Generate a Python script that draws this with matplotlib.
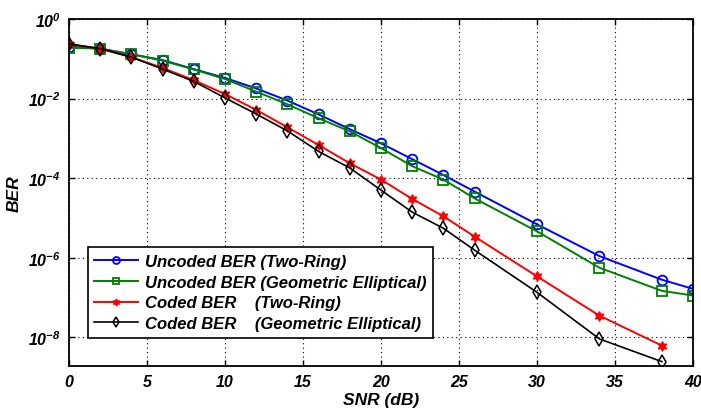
import matplotlib
matplotlib.use('Agg')
import matplotlib.pyplot as plt
from matplotlib.ticker import FixedLocator, NullLocator

plt.rcParams['font.family'] = ['Liberation Sans', 'DejaVu Sans']
plt.rcParams['mathtext.fontset'] = 'custom'
plt.rcParams['mathtext.rm'] = 'Liberation Sans:italic:bold'
plt.rcParams['mathtext.it'] = 'Liberation Sans:italic:bold'
plt.rcParams['mathtext.bf'] = 'Liberation Sans:italic:bold'

# SNR points (dB)
snr_uncoded = [0, 2, 4, 6, 8, 10, 12, 14, 16, 18, 20, 22, 24, 26, 30, 34, 38, 40]
snr_coded = [0, 2, 4, 6, 8, 10, 12, 14, 16, 18, 20, 22, 24, 26, 30, 34, 38]

ber_uncoded_ring = [0.20, 0.18, 0.13, 0.093, 0.055, 0.033, 0.018, 0.0089, 0.0040,
                    0.0017, 7.5e-4, 3.0e-4, 1.2e-4, 4.6e-5, 6.9e-6, 1.1e-6,
                    2.8e-7, 1.65e-7]
ber_uncoded_ellip = [0.19, 0.18, 0.13, 0.090, 0.054, 0.031, 0.015, 0.0072, 0.0032,
                     0.0015, 5.7e-4, 2.0e-4, 9.2e-5, 3.1e-5, 4.6e-6, 5.6e-7,
                     1.47e-7, 1.12e-7]
ber_coded_ring = [0.235, 0.18, 0.11, 0.059, 0.029, 0.013, 0.0052, 0.0019, 6.8e-4,
                  2.36e-4, 9.2e-5, 3.0e-5, 1.1e-5, 3.4e-6, 3.4e-7, 3.5e-8, 6.2e-9]
ber_coded_ellip = [0.235, 0.18, 0.11, 0.055, 0.027, 0.0104, 0.0041, 0.00154, 4.7e-4,
                   1.8e-4, 5.0e-5, 1.4e-5, 5.5e-6, 1.55e-6, 1.35e-7, 9.1e-9, 2.45e-9]

labels = ['Uncoded BER (Two-Ring)',
          'Uncoded BER (Geometric Elliptical)',
          'Coded BER    (Two-Ring)',
          'Coded BER    (Geometric Elliptical)']

fig = plt.figure(figsize=(7.01, 4.10), dpi=100)
ax = fig.add_axes([0.0984, 0.1049, 0.8902, 0.8463])

ax.semilogy(snr_uncoded, ber_uncoded_ring, '-o', color='blue', lw=1.4,
            ms=7, mfc='none', mew=1.3, label=labels[0])
ax.semilogy(snr_uncoded, ber_uncoded_ellip, '-s', color='green', lw=1.4,
            ms=7, mfc='none', mew=1.3, label=labels[1])
ax.semilogy(snr_coded, ber_coded_ring, '-', color='red', lw=1.4,
            marker=(6, 1, 0), ms=7, mfc='red', mew=1.0, label=labels[2])
ax.semilogy(snr_coded, ber_coded_ellip, '-d', color='black', lw=1.2,
            ms=7, mfc='none', mew=1.1, label=labels[3])

ax.set_xlim(0, 40)
ax.set_ylim(1.9e-9, 1)
ax.set_xticks(range(0, 41, 5))
ax.yaxis.set_major_locator(FixedLocator([1e0, 1e-2, 1e-4, 1e-6, 1e-8]))
ax.yaxis.set_minor_locator(NullLocator())
ax.set_yticklabels([r'$10^{0}$', r'$10^{-2}$', r'$10^{-4}$', r'$10^{-6}$', r'$10^{-8}$'])

for lab in ax.get_xticklabels() + ax.get_yticklabels():
    lab.set_fontweight('bold')
    lab.set_fontstyle('italic')
    lab.set_fontsize(11.5)

ax.tick_params(direction='in', top=True, right=True, length=4, width=1, pad=6)
ax.grid(True, linestyle=(0, (1, 3)), color='black', lw=0.8)
for s in ax.spines.values():
    s.set_linewidth(1.3)

ax.set_xlabel('SNR (dB)', fontsize=12.5, fontweight='bold', fontstyle='italic', labelpad=2)
ax.set_ylabel('BER', fontsize=12.5, fontweight='bold', fontstyle='italic')
ax.yaxis.set_label_coords(-0.076, 0.5)

leg = ax.legend(loc='lower left', bbox_to_anchor=(0.03, 0.081), borderaxespad=0,
                fancybox=False, framealpha=1, edgecolor='black', handlelength=2.6,
                borderpad=0.4, labelspacing=0.35, handletextpad=0.45,
                prop={'weight': 'bold', 'style': 'italic', 'size': 12})
leg.get_frame().set_linewidth(1.2)
for h in leg.legend_handles:
    h.set_markersize(5)

fig.savefig('out.png', dpi=100)
